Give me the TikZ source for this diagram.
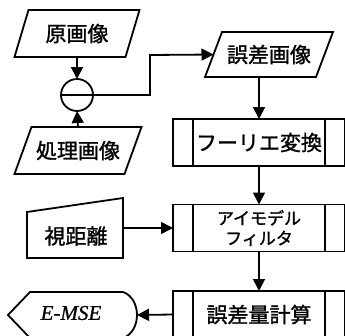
\documentclass[tikz,border=0pt]{standalone}
\usepackage{fontspec}
\setmainfont{Liberation Serif}
\newfontfamily\jp{Noto Sans CJK JP}[FakeBold=1.3]
\newfontfamily\emsefont{Liberation Serif}[FakeBold=0.8]
\usetikzlibrary{arrows.meta}
\begin{document}
\begin{tikzpicture}[x=1pt,y=-1pt, line width=1.8pt,
  arr/.style={-{Triangle[length=12pt,width=12pt]}},
  ghost/.style={inner sep=0pt, outer sep=0pt},
  lbl/.style={font=\jp\fontsize{21}{22}\selectfont},
  slbl/.style={font=\jp\fontsize{17}{20}\selectfont, align=center},
  subr/.style={draw, inner sep=0pt, outer sep=0pt, minimum width=172pt, minimum height=47pt}]
\clip (0,0) rectangle (345,335);
\useasboundingbox (0,0) rectangle (345,335);

% original image
\node[ghost, lbl, minimum width=111pt, minimum height=47pt] (orig) at (77,33.5) {原画像};
\draw ([xshift=7pt]orig.north west) -- ([xshift=7pt]orig.north east) -- ([xshift=-7pt]orig.south east) -- ([xshift=-7pt]orig.south west) -- cycle;

% processed image
\node[ghost, lbl, minimum width=110pt, minimum height=47pt] (proc) at (78,150.5) {処理画像};
\draw ([xshift=8.5pt]proc.north west) -- ([xshift=8.5pt]proc.north east) -- ([xshift=-8.5pt]proc.south east) -- ([xshift=-8.5pt]proc.south west) -- cycle;

% subtraction circle
\node[draw, circle, minimum size=32pt, inner sep=0pt, outer sep=0pt] (circ) at (77,95) {};
\draw (circ.west) -- (circ.east);

% error image
\node[ghost, lbl, minimum width=111pt, minimum height=45pt] (err) at (269,54.5) {誤差画像};
\draw ([xshift=8.5pt]err.north west) -- ([xshift=8.5pt]err.north east) -- ([xshift=-8.5pt]err.south east) -- ([xshift=-8.5pt]err.south west) -- cycle;

% process boxes
\node[subr, lbl] (fft) at (259,142.5) {フーリエ変換};
\node[subr, slbl] (eye) at (259,228) {アイモデル\\フィルタ};
\node[subr, lbl] (qty) at (259,314.5) {誤差量計算};
\foreach \n in {fft,eye,qty}{
  \draw ([xshift=20pt]\n.north west) -- ([xshift=20pt]\n.south west);
  \draw ([xshift=-20pt]\n.north east) -- ([xshift=-20pt]\n.south east);
}

% viewing distance (manual input)
\node[ghost, minimum width=96pt, minimum height=60pt] (dist) at (75,228) {};
\draw ([yshift=-14pt]dist.north west) -- (dist.north east) -- (dist.south east) -- (dist.south west) -- cycle;
\node[lbl] (distlbl) at (76,236) {視距離};

% E-MSE (display)
\node[ghost, minimum width=129pt, minimum height=46pt] (emse) at (72.5,315) {};
\draw (8,315) -- (30,292) -- (123,292) .. controls (132,295) and (137,305) .. (137,315)
      .. controls (137,325) and (132,335) .. (123,338) -- (30,338) -- cycle;
\node[font=\emsefont\fontsize{21}{24}\selectfont\itshape] (emselbl) at (71,313) {E-MSE};

% connectors
\coordinate (bend) at (150,55);
\draw[arr] (orig.south) -- (circ.north);
\draw[arr] (proc.north) -- (circ.south);
\draw[arr] (circ.east) -| (bend) -- (err.west);
\draw[arr] (fft.north |- err.south) -- (fft.north);
\draw[arr] (fft.south) -- (eye.north);
\draw[arr] (eye.south) -- (qty.north);
\draw[arr] (dist.east) -- (eye.west);
\draw[arr] (qty.west) -- (emse.east);
\end{tikzpicture}
\end{document}
